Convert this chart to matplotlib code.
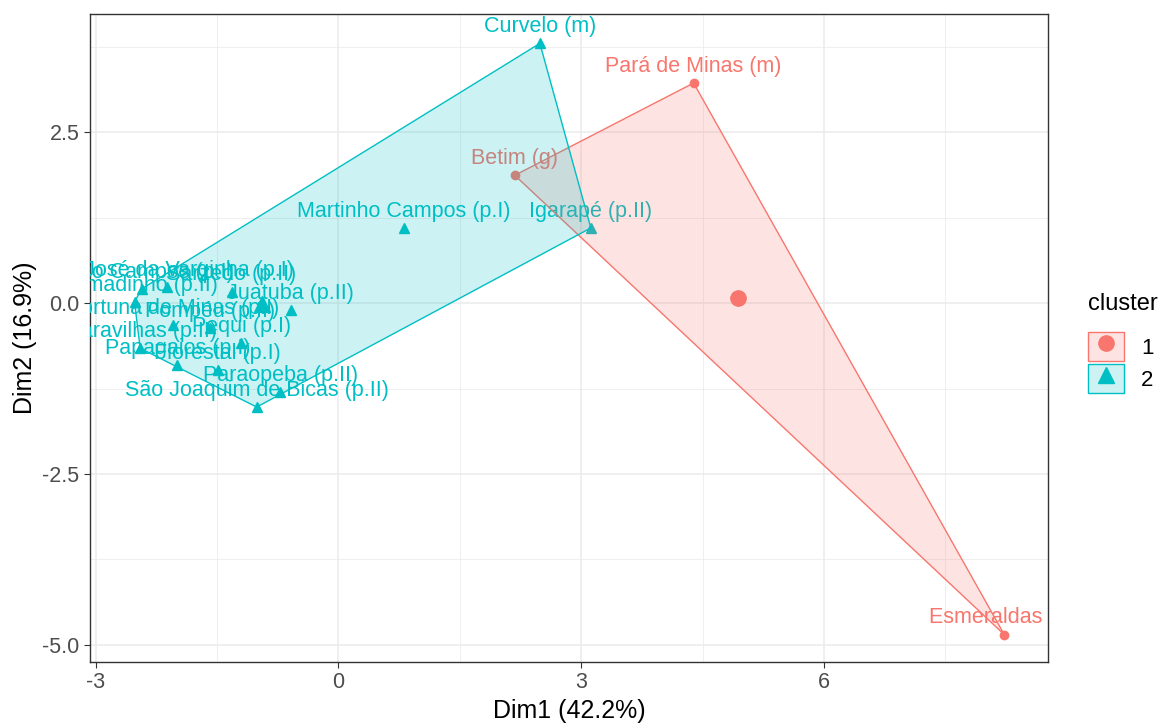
import numpy as np
import matplotlib
matplotlib.use("Agg")
import matplotlib.pyplot as plt
from matplotlib.patches import Polygon, Patch
from matplotlib.lines import Line2D

plt.rcParams['font.family'] = ['Liberation Sans', 'DejaVu Sans']
plt.rcParams['axes.unicode_minus'] = False

# cluster 1
names1 = ["Pará de Minas (m)", "Betim (g)", "Esmeraldas (m)"]
x1 = [4.39, 2.18, 8.23]
y1 = [3.22, 1.87, -4.85]

# cluster 2
names2 = ["Curvelo (m)", "Igarapé (p.II)", "Martinho Campos (p.I)",
          "São José da Varginha (p.I)", "Mário Campos (p.I)", "Brumadinho (p.II)",
          "Sarzedo (p.II)", "Juatuba (p.II)", "Fortuna de Minas (p.I)",
          "Pompéu (p.II)", "Pequi (p.I)", "Maravilhas (p.II)",
          "Papagaios (p.I)", "Florestal (p.I)", "Paraopeba (p.II)",
          "São Joaquim de Bicas (p.II)"]
x2 = [2.49, 3.12, 0.81, -2.12, -2.43, -2.52, -1.32, -0.59, -2.04,
      -1.59, -1.20, -2.45, -1.99, -1.49, -0.72, -1.01]
y2 = [3.80, 1.10, 1.10, 0.24, 0.21, 0.02, 0.17, -0.10, -0.32,
      -0.37, -0.58, -0.66, -0.91, -0.98, -1.30, -1.52]

col1 = "#F8766D"
col2 = "#00BFC4"


def hull(xs, ys):
	pts = sorted(zip(xs, ys))
	def cross(o, a, b):
		return (a[0]-o[0])*(b[1]-o[1]) - (a[1]-o[1])*(b[0]-o[0])
	lower = []
	for p in pts:
		while len(lower) >= 2 and cross(lower[-2], lower[-1], p) <= 0:
			lower.pop()
		lower.append(p)
	upper = []
	for p in reversed(pts):
		while len(upper) >= 2 and cross(upper[-2], upper[-1], p) <= 0:
			upper.pop()
		upper.append(p)
	return lower[:-1] + upper[:-1]


fig = plt.figure(figsize=(11.65, 7.27), dpi=100)
ax = fig.add_axes([90/1165, 1-662/727, (1048-90)/1165, (662-14)/727])

ax.set_xlim(-3.07, 8.77)
ax.set_ylim(-5.25, 4.23)
ax.set_xticks([-3, 0, 3, 6])
ax.set_yticks([-5.0, -2.5, 0.0, 2.5])
ax.set_yticklabels(["-5.0", "-2.5", "0.0", "2.5"])
ax.set_xticks([-1.5, 1.5, 4.5, 7.5], minor=True)
ax.set_yticks([-3.75, -1.25, 1.25, 3.75], minor=True)
ax.grid(which='major', color='#EBEBEB', linewidth=1.1, zorder=0)
ax.grid(which='minor', color='#EBEBEB', linewidth=0.55, zorder=0)
ax.tick_params(which='minor', length=0)
ax.tick_params(which='major', length=4, color='#333333', labelsize=15.5, labelcolor='#4D4D4D')
for s in ax.spines.values():
	s.set_color('#333333')
	s.set_linewidth(1.0)
ax.set_axisbelow(True)

ax.set_xlabel("Dim1 (42.2%)", fontsize=18, labelpad=4)
ax.set_ylabel("Dim2 (16.9%)", fontsize=18, labelpad=4)

for xs, ys, names, col, mk, ms, cms in [(x1, y1, names1, col1, 'o', 6, 11),
                                         (x2, y2, names2, col2, '^', 6.5, 12)]:
	ax.plot(xs, ys, linestyle='none', marker=mk, color=col, markersize=ms, zorder=3)
	ax.plot([np.mean(xs)], [np.mean(ys)], linestyle='none', marker=mk,
	        color=col, markersize=cms, zorder=3)
	for n, xx, yy in zip(names, xs, ys):
		ax.annotate(n, (xx, yy), xytext=(0, 12), textcoords='offset points',
		            ha='center', va='center', fontsize=15.5, color=col,
		            zorder=4, annotation_clip=False, clip_on=True)
	hp = hull(xs, ys)
	ax.add_patch(Polygon(hp, closed=True, facecolor=col, alpha=0.2,
	                     edgecolor='none', zorder=5))
	ax.add_patch(Polygon(hp, closed=True, facecolor='none', edgecolor=col,
	                     linewidth=1, zorder=5))

# legend
h1 = (Patch(facecolor=col1, alpha=0.2, edgecolor='none'),
      Patch(facecolor='none', edgecolor=col1, linewidth=1),
      Line2D([], [], linestyle='none', marker='o', color=col1, markersize=11))
h2 = (Patch(facecolor=col2, alpha=0.2, edgecolor='none'),
      Patch(facecolor='none', edgecolor=col2, linewidth=1),
      Line2D([], [], linestyle='none', marker='^', color=col2, markersize=11))
leg = fig.legend([h1, h2], ["1", "2"], title="cluster", loc='center left',
                 bbox_to_anchor=(1088/1165, 1-343/727), frameon=False,
                 fontsize=16, title_fontsize=17, handlelength=1.6,
                 handleheight=1.65, handletextpad=0.8, labelspacing=0.12,
                 borderpad=0, borderaxespad=0)
leg._legend_box.align = "left"
leg._legend_box.sep = 12

fig.savefig("out.png", dpi=100)
